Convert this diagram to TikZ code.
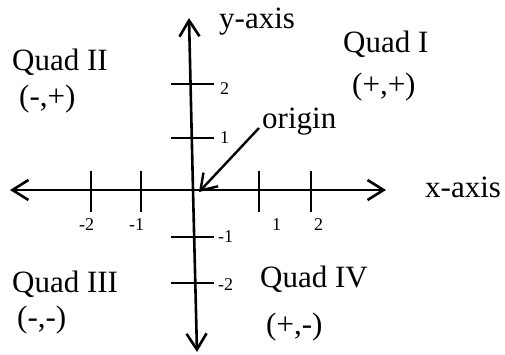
\documentclass[tikz,border=0pt]{standalone}
\usepackage{fontspec}
\setmainfont{Liberation Serif}
\usetikzlibrary{arrows.meta}

\tikzset{
  axis/.style={line width=2.6pt, -{Straight Barb[length=16pt,width=20pt,line width=2.6pt]}},
  tick/.style={line width=2.2pt},
  biglbl/.style={inner sep=0pt, anchor=base west, font=\fontsize{31}{31}\selectfont},
  ticklbl/.style={inner sep=0pt, anchor=base west, font=\fontsize{18}{18}\selectfont},
}

\begin{document}
\begin{tikzpicture}[x=1pt, y=-1pt]
  \useasboundingbox (0,0) rectangle (505,354);

  % Axis ends
  \coordinate (O) at (193,190);
  \coordinate (xl) at (10,190);
  \coordinate (xr) at (386,190);
  \coordinate (yt) at (189,18);
  \coordinate (yb) at (197,352);

  % Axes
  \draw[axis] (O) -- (xl);
  \draw[axis] (O) -- (xr);
  \draw[axis] (O) -- (yt);
  \draw[axis] (O) -- (yb);

  % Ticks on x
  \foreach \x/\t/\lx in {91/-2/79, 141/-1/129, 259/1/272, 311/2/314} {
    \draw[tick] (\x,171) -- (\x,212);
    \node[ticklbl] (xt\t) at (\lx,230) {\t};
  }
  % Ticks on y
  \foreach \y/\t/\ly in {84/2/94, 138/1/143, 237/-1/242, 283/-2/290} {
    \draw[tick] (171,\y) -- (214,\y);
    \node[ticklbl] (yt\t) at (\ifdim\t pt<0pt 218\else 220\fi,\ly) {\t};
  }

  % Axis names
  \node[biglbl] (ylbl) at (219,28) {y-axis};
  \node[biglbl] (xlbl) at (425,197) {x-axis};

  % Origin pointer
  \node[biglbl] (orig) at (262,128) {origin};
  \draw[line width=2.4pt, -{Straight Barb[length=15pt,width=20pt,line width=2.4pt]}]
    ([xshift=-3pt]orig.base west) -- ([xshift=6pt,yshift=-2pt]O);

  % Quadrants
  \node[biglbl] (q1) at (343,52) {Quad I};
  \node[biglbl] (s1) at (352,94.5) {(+,+)};
  \node[biglbl] (q2) at (12,70) {Quad II};
  \node[biglbl] (s2) at (19,106.5) {(-,+)};
  \node[biglbl] (q3) at (12,292) {Quad III};
  \node[biglbl] (s3) at (17,327.5) {(-,-)};
  \node[biglbl] (q4) at (260,287) {Quad IV};
  \node[biglbl] (s4) at (266,334.5) {(+,-)};
\end{tikzpicture}
\end{document}
